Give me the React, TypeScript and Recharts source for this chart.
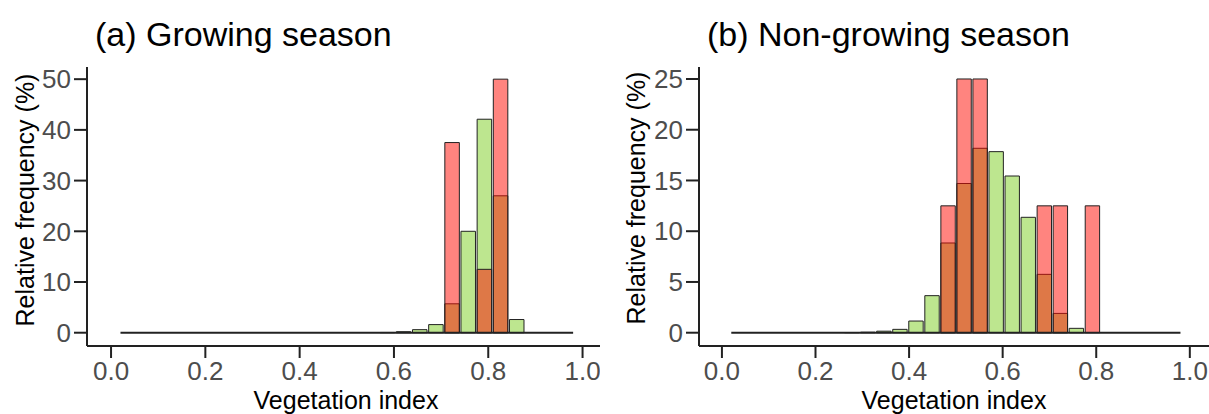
import { ComposedChart, Bar, XAxis, YAxis, ReferenceLine } from 'recharts';

// histogram bins: 28 bins of equal width between 0.02 and 0.98
const binFrom = 0.02;
const binTo = 0.98;
const binWidth = (binTo - binFrom) / 28;
const binCenters = [
    0.0371, 0.0714, 0.1057, 0.14, 0.1743, 0.2086, 0.2429, 0.2771, 0.3114, 0.3457,
    0.38, 0.4143, 0.4486, 0.4829, 0.5171, 0.5514, 0.5857, 0.62, 0.6543, 0.6886,
    0.7229, 0.7571, 0.7914, 0.8257, 0.86, 0.8943, 0.9286, 0.9629,
];

const xTicks = [0, 0.2, 0.4, 0.6, 0.8, 1.0];

// (a) growing season
const growingGreen = [
    0, 0, 0, 0, 0, 0, 0, 0, 0, 0,
    0, 0, 0, 0, 0, 0, 0.05, 0.2, 0.6, 1.6,
    5.7, 20.0, 42.1, 27.0, 2.6, 0, 0, 0,
];
const growingRed = [
    0, 0, 0, 0, 0, 0, 0, 0, 0, 0,
    0, 0, 0, 0, 0, 0, 0, 0, 0, 0,
    37.5, 0, 12.5, 50, 0, 0, 0, 0,
];
const growingTicks = [0, 10, 20, 30, 40, 50];

// (b) non-growing season
const nonGrowingGreen = [
    0, 0, 0, 0, 0, 0, 0, 0.02, 0.05, 0.15,
    0.33, 1.15, 3.65, 8.84, 14.7, 18.17, 17.84, 15.44, 11.37, 5.75,
    1.9, 0.43, 0, 0, 0, 0, 0, 0,
];
const nonGrowingRed = [
    0, 0, 0, 0, 0, 0, 0, 0, 0, 0,
    0, 0, 0, 12.5, 25, 25, 0, 0, 0, 12.5,
    12.5, 0, 12.5, 0, 0, 0, 0, 0,
];
const nonGrowingTicks = [0, 5, 10, 15, 20, 25];

const FONT = '"Liberation Sans", Arial, sans-serif';
const HEIGHT = 414;
const TOP = 67;
const X_AXIS_H = 68;

interface PanelProps {
    left: number;
    width: number;
    axisX: number;
    xDomain: [number, number];
    yDomain: [number, number];
    yTicks: number[];
    green: number[];
    red: number[];
}

const Panel = ({ left, width, axisX, xDomain, yDomain, yTicks, green, red }: PanelProps) => {
    const data = binCenters.map((x, i) => ({ x, green: green[i], red: red[i] }));
    const plotW = width - axisX;
    const barSize = binWidth * plotW / (xDomain[1] - xDomain[0]);
    const tickStyle = { fill: '#4d4d4d', fontSize: 26, fontFamily: FONT };

    return (
        <div style={{ position: 'absolute', left, top: 0 }}>
            <ComposedChart
                width={width}
                height={HEIGHT}
                data={data}
                margin={{ top: TOP, right: 0, bottom: 0, left: 0 }}
                barGap={0}
                barCategoryGap={0}
            >
                <XAxis
                    xAxisId="main"
                    type="number"
                    dataKey="x"
                    domain={xDomain}
                    ticks={xTicks}
                    interval={0}
                    allowDataOverflow
                    height={X_AXIS_H}
                    tickSize={12}
                    tickMargin={4}
                    tickFormatter={(v: number) => v.toFixed(1)}
                    tick={tickStyle}
                    axisLine={{ stroke: '#222', strokeWidth: 2 }}
                    tickLine={{ stroke: '#222', strokeWidth: 2 }}
                />
                <XAxis xAxisId="over" type="number" dataKey="x" domain={xDomain} allowDataOverflow hide />
                <YAxis
                    type="number"
                    domain={yDomain}
                    ticks={yTicks}
                    interval={0}
                    allowDataOverflow
                    width={axisX}
                    tickSize={13}
                    tickMargin={3}
                    tick={tickStyle}
                    axisLine={{ stroke: '#222', strokeWidth: 2 }}
                    tickLine={{ stroke: '#222', strokeWidth: 2 }}
                />
                <Bar
                    xAxisId="main"
                    dataKey="green"
                    barSize={barSize}
                    fill="#bde68f"
                    stroke="#222"
                    strokeWidth={1}
                    isAnimationActive={false}
                />
                <Bar
                    xAxisId="over"
                    dataKey="red"
                    barSize={barSize}
                    fill="#ff0a00"
                    fillOpacity={0.5}
                    stroke="#222"
                    strokeWidth={1}
                    isAnimationActive={false}
                />
                <ReferenceLine
                    xAxisId="main"
                    segment={[{ x: binFrom, y: 0 }, { x: binTo, y: 0 }]}
                    stroke="#222"
                    strokeWidth={2}
                />
            </ComposedChart>
        </div>
    );
};

export default function App() {
    return (
        <div style={{ position: 'absolute', left: 0, top: 0, width: 1209, height: HEIGHT, overflow: 'hidden', background: '#fff' }}>
            <Panel
                left={0}
                width={600}
                axisX={87}
                xDomain={[-0.051, 1.037]}
                yDomain={[-2.62, 52.4]}
                yTicks={growingTicks}
                green={growingGreen}
                red={growingRed}
            />
            <Panel
                left={600}
                width={609}
                axisX={99}
                xDomain={[-0.049, 1.041]}
                yDomain={[-1.31, 26.18]}
                yTicks={nonGrowingTicks}
                green={nonGrowingGreen}
                red={nonGrowingRed}
            />

            {/* titles and axis titles */}
            <svg width={1209} height={HEIGHT} style={{ position: 'absolute', left: 0, top: 0, pointerEvents: 'none' }} fontFamily={FONT}>
                <text x={95} y={46} fontSize={34} fill="#000">(a) Growing season</text>
                <text x={707} y={46} fontSize={34} fill="#000">(b) Non-growing season</text>
                <text x={346} y={409} fontSize={25} fill="#000" textAnchor="middle">Vegetation index</text>
                <text x={954} y={409} fontSize={25} fill="#000" textAnchor="middle">Vegetation index</text>
                <text transform="translate(34,200) rotate(-90)" fontSize={25} fill="#000" textAnchor="middle">Relative frequency (%)</text>
                <text transform="translate(645,198) rotate(-90)" fontSize={25} fill="#000" textAnchor="middle">Relative frequency (%)</text>
            </svg>
        </div>
    );
}
